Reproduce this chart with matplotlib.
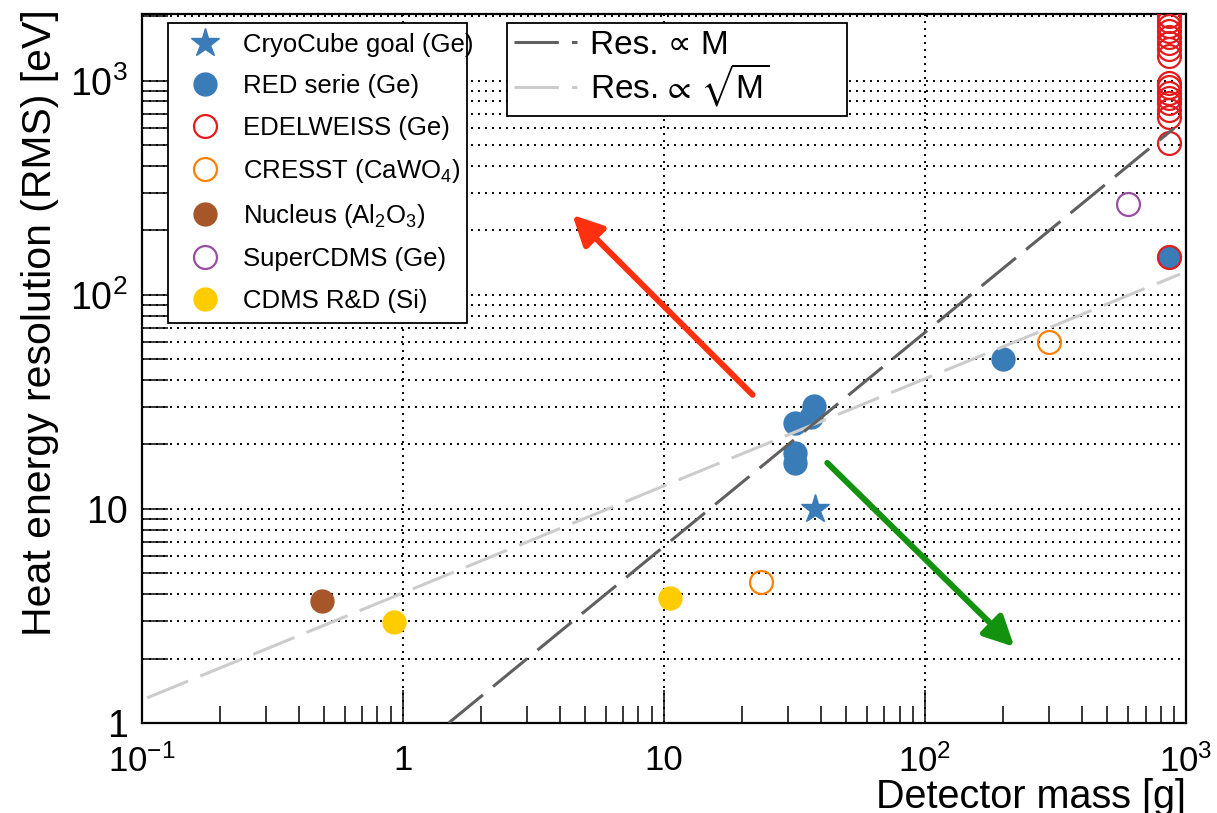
import matplotlib
matplotlib.use("Agg")
import matplotlib.pyplot as plt
from matplotlib.ticker import LogLocator, NullFormatter

plt.rcParams['font.family'] = ['Liberation Sans', 'DejaVu Sans']
plt.rcParams['mathtext.fontset'] = 'custom'
plt.rcParams['mathtext.rm'] = 'Liberation Sans'
plt.rcParams['mathtext.it'] = 'Liberation Sans:italic'
plt.rcParams['mathtext.bf'] = 'Liberation Sans:bold'
plt.rcParams['mathtext.fallback'] = 'stixsans'

# ---------------- data ----------------
cryo_x = [38.0]
cryo_y = [10.0]

red_x = [31.8, 31.8, 31.8, 36.7, 37.7, 200.0, 860.0]
red_y = [25.2, 18.3, 16.4, 26.9, 30.3, 50.0, 150.0]

edw_y = [2000, 1900, 1800, 1700, 1600, 1500, 1400, 1300,
         980, 930, 880, 830, 790, 730, 680, 510, 150]
edw_x = [860.0] * len(edw_y)

cresst_x = [23.6, 300.0]
cresst_y = [4.56, 60.0]

nucleus_x = [0.49]
nucleus_y = [3.72]

scdms_x = [600.0]
scdms_y = [265.0]

cdms_x = [0.925, 10.6]
cdms_y = [2.97, 3.84]

# scaling guides (end points of the straight power-law lines)
lin_x = [1.5, 900.0]
lin_y = [1.0, 600.0]
sqrt_x = [0.105, 950.0]
sqrt_y = [1.31, 125.0]

# arrows (tail -> tip)
red_arrow_tail = (21.9, 34.1)
red_arrow_tip = (4.47, 236.0)
green_arrow_tail = (42.3, 16.4)
green_arrow_tip = (220.0, 2.27)

xtick_vals = [0.1, 1, 10, 100, 1000]
xtick_labels = [r'$10^{-1}$', '1', '10', r'$10^{2}$', r'$10^{3}$']
ytick_vals = [1, 10, 100, 1000]
ytick_labels = ['1', '10', r'$10^{2}$', r'$10^{3}$']

labels = ['CryoCube goal (Ge)', 'RED serie (Ge)', 'EDELWEISS (Ge)',
          r'CRESST (CaWO$_{4}$)', r'Nucleus (Al$_{2}$O$_{3}$)',
          'SuperCDMS (Ge)', 'CDMS R&D (Si)']
line_labels = ['Res. \u221d M', 'Res. $\u221d$ $\\sqrt{\\mathrm{M}}$']

# colours
c_blue = '#3a7cb8'
c_red = '#e41a1c'
c_orange = '#ff7f00'
c_brown = '#a65628'
c_purple = '#984ea3'
c_yellow = '#ffcc00'
c_dark = '#606060'
c_light = '#cccccc'

# ---------------- figure ----------------
fig = plt.figure(figsize=(12.17, 8.13), dpi=100)
ax = fig.add_axes([0.1163, 0.1107, 0.8582, 0.8721])
ax.set_xscale('log')
ax.set_yscale('log')
ax.set_xlim(0.1, 1000)
ax.set_ylim(1, 2050)

ms = 16.5
h_star, = ax.plot(cryo_x, cryo_y, ls='none', marker='*', ms=21, color=c_blue,
                  mec=c_blue, zorder=3)
h_red, = ax.plot(red_x, red_y, ls='none', marker='o', ms=ms, color=c_blue,
                 mec=c_blue, zorder=3)
h_edw, = ax.plot(edw_x, edw_y, ls='none', marker='o', ms=ms, mfc='none',
                 mec=c_red, mew=1.6, zorder=3)
h_cresst, = ax.plot(cresst_x, cresst_y, ls='none', marker='o', ms=ms, mfc='none',
                    mec=c_orange, mew=1.6, zorder=3)
h_nuc, = ax.plot(nucleus_x, nucleus_y, ls='none', marker='o', ms=ms,
                 color=c_brown, mec=c_brown, zorder=3)
h_scdms, = ax.plot(scdms_x, scdms_y, ls='none', marker='o', ms=ms, mfc='none',
                   mec=c_purple, mew=1.6, zorder=3)
h_cdms, = ax.plot(cdms_x, cdms_y, ls='none', marker='o', ms=ms,
                  color=c_yellow, mec=c_yellow, zorder=3)

lw = 2.2
dash = (14.5, 4.3)
h_sqrt, = ax.plot(sqrt_x, sqrt_y, color=c_light, lw=lw, dashes=dash, zorder=4)
h_lin, = ax.plot(lin_x, lin_y, color=c_dark, lw=lw, dashes=dash, zorder=5)

ax.annotate('', xy=red_arrow_tip, xytext=red_arrow_tail,
            arrowprops=dict(arrowstyle='-|>', color='#ff3010', lw=4.3,
                            mutation_scale=45, shrinkA=0, shrinkB=0), zorder=6)
ax.annotate('', xy=green_arrow_tip, xytext=green_arrow_tail,
            arrowprops=dict(arrowstyle='-|>', color='#12920e', lw=4.3,
                            mutation_scale=45, shrinkA=0, shrinkB=0), zorder=6)

# grid
dot = (0, (1, 2.6))
ax.grid(which='major', axis='x', color='k', lw=1.4, linestyle=dot)
ax.grid(which='both', axis='y', color='k', lw=1.4, linestyle=dot)
ax.set_axisbelow(True)

# ticks
ax.set_xticks(xtick_vals, labels=xtick_labels)
ax.set_yticks(ytick_vals, labels=ytick_labels)
ax.xaxis.set_minor_locator(LogLocator(base=10, subs=range(2, 10)))
ax.yaxis.set_minor_locator(LogLocator(base=10, subs=range(2, 10)))
ax.xaxis.set_minor_formatter(NullFormatter())
ax.yaxis.set_minor_formatter(NullFormatter())
ax.tick_params(axis='x', which='major', direction='in', length=24, width=1.1,
               labelsize=25, pad=15, top=False)
ax.tick_params(axis='x', which='minor', direction='in', length=12, width=1.1,
               top=False)
ax.tick_params(axis='y', which='both', direction='in', length=19, width=1.1,
               labelsize=27, pad=10, right=False)
for s in ax.spines.values():
    s.set_linewidth(1.6)

ax.set_xlabel('Detector mass [g]', fontsize=28.5, loc='right')
ax.xaxis.set_label_coords(1.0, -0.078)
ax.set_ylabel('Heat energy resolution (RMS) [eV]', fontsize=29.5, loc='top')
ax.yaxis.set_label_coords(-0.079, 1.007)

# legends
leg1 = ax.legend([h_star, h_red, h_edw, h_cresst, h_nuc, h_scdms, h_cdms], labels,
                 loc='upper left',
                 bbox_to_anchor=(168 / 1217, 1 - 324 / 813, 299 / 1217, 301 / 813),
                 bbox_transform=fig.transFigure, borderaxespad=0, mode='expand',
                 fontsize=18.5, handlelength=2.1, handletextpad=0.4,
                 borderpad=0.4, labelspacing=0.67, numpoints=1,
                 fancybox=False, framealpha=1, edgecolor='k')
leg1.get_frame().set_linewidth(1.3)
leg1.set_zorder(10)
ax.add_artist(leg1)

leg2 = ax.legend([h_lin, h_sqrt], line_labels,
                 loc='upper left',
                 bbox_to_anchor=(507 / 1217, 1 - 107 / 813, 340 / 1217, 84 / 813),
                 bbox_transform=fig.transFigure, borderaxespad=0, mode='expand',
                 fontsize=24, handlelength=1.9, handletextpad=0.4,
                 borderpad=0.2, labelspacing=0.05,
                 fancybox=False, framealpha=1, edgecolor='k')
leg2.get_frame().set_linewidth(1.3)
leg2.set_zorder(10)

fig.savefig('out.png', dpi=100)
